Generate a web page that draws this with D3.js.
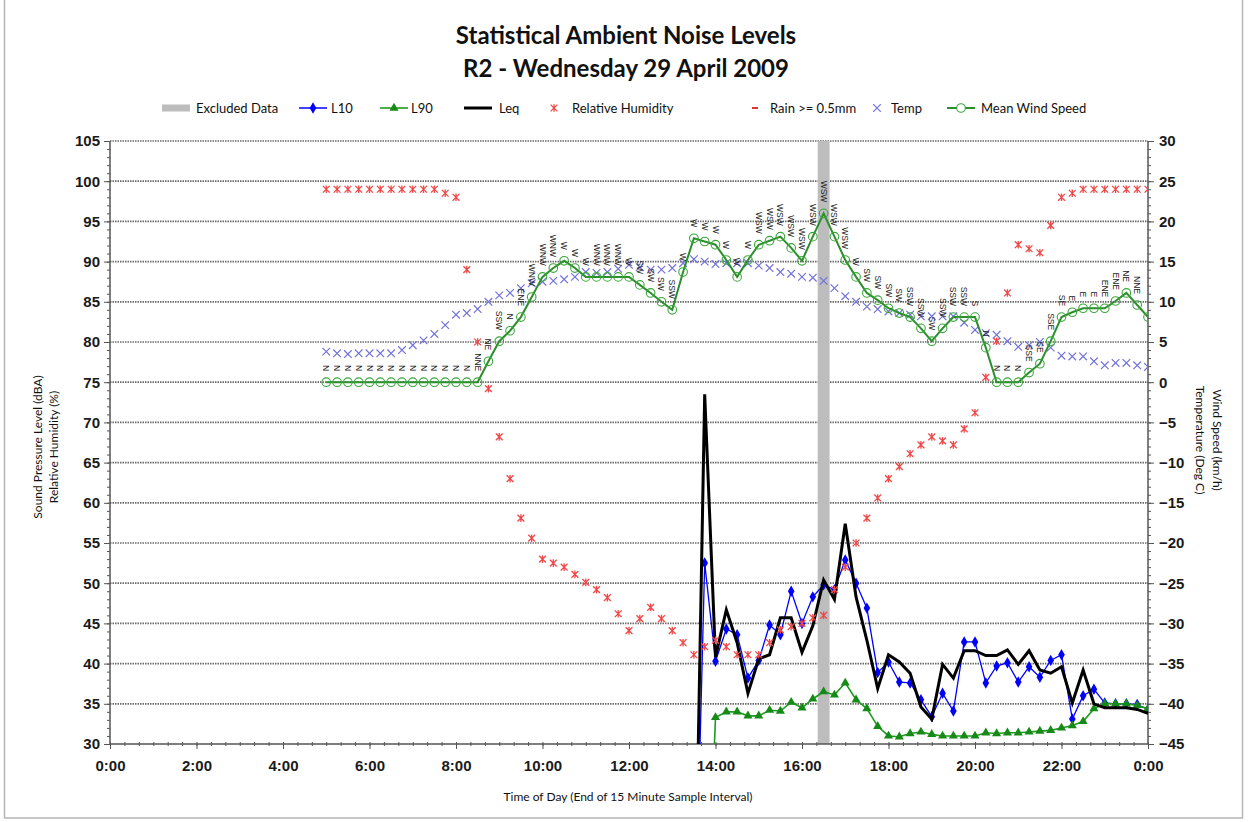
<!DOCTYPE html>
<html>
<head>
<meta charset="utf-8">
<title>Statistical Ambient Noise Levels - R2</title>
<script src="https://cdn.jsdelivr.net/npm/d3@7"></script>
<style>
  html, body { margin: 0; padding: 0; background: #fff; }
  svg { display: block; }
</style>
</head>
<body>
<svg id="chart" width="1248" height="822"></svg>
<script>
// ---------------------------------------------------------------
// Data: 15 minute samples (time = end of sample interval)
// ---------------------------------------------------------------
const stepMinutes = 15;

// Weather station samples, 5:00 to 0:00 (next day)
const weatherStart = "5:00";
const humidity = [ // Relative Humidity (%)
  99, 99, 99, 99, 99, 99, 99, 99, 99, 99, 99, 98.5, 98, 89, 80, 74.2,
  68.2, 63, 58.1, 55.6, 53, 52.5, 52, 51.1, 50.1, 49.2, 48.2, 46.2,
  44.1, 45.6, 47, 45.6, 44.1, 42.6, 41.1, 42.1, 42.9, 42.1, 41.1, 41.1,
  41.1, 42.6, 44.2, 44.6, 45, 45.7, 46, 49.2, 52, 55, 58.1, 60.6,
  63, 64.5, 66.1, 67.2, 68.2, 67.7, 67.2, 69.2, 71.2, 75.6, 80.1, 86.1,
  92.1, 91.6, 91.1, 94.5, 98, 98.5, 99, 99, 99, 99, 99, 99, 99
];
const temperature = [ // Temp (Deg C)
  3.8, 3.6, 3.5, 3.6, 3.6, 3.6, 3.6, 4.0, 4.6, 5.2, 6.0, 7.1, 8.4, 8.6, 9.1, 10.0,
  10.8, 11.1, 11.7, 12.3, 12.5, 12.6, 12.8, 13.1, 13.7, 13.6, 13.7, 14.1,
  14.6, 14.3, 14.0, 14.0, 14.2, 14.8, 15.3, 15.0, 14.7, 14.8, 14.8, 14.8,
  14.5, 14.2, 13.7, 13.5, 13.1, 13.0, 12.6, 11.7, 10.7, 10.0, 9.4, 9.1,
  8.8, 8.6, 8.4, 8.2, 8.2, 8.2, 8.2, 7.4, 6.5, 6.1, 5.9, 5.1,
  4.4, 4.6, 5.0, 4.3, 3.3, 3.2, 3.2, 2.6, 2.1, 2.4, 2.4, 2.1, 1.9
];
const windSpeed = [ // Mean Wind Speed (km/h)
  0, 0, 0, 0, 0, 0, 0, 0, 0, 0, 0, 0, 0, 0, 0, 2.6,
  5.1, 6.4, 8.1, 10.6, 13.1, 14.2, 15.1, 14.2, 13.1, 13.1, 13.1, 13.1,
  13.1, 12.1, 11.1, 10.0, 9.0, 13.7, 17.9, 17.5, 17.1, 15.2, 13.1, 15.2,
  17.1, 17.6, 18.1, 16.7, 15.1, 18.1, 21.0, 18.1, 15.2, 13.1, 11.1, 10.2,
  9.2, 8.6, 8.1, 6.7, 5.1, 6.7, 8.1, 8.1, 8.1, 4.3, 0, 0,
  0, 1.2, 2.3, 5.1, 8.1, 8.7, 9.2, 9.2, 9.2, 10.1, 11.1, 9.6, 8.1
];
const windDirection = [
  "N", "N", "N", "N", "N", "N", "N", "N", "N", "N", "N", "N", "N", "N", "NNE", "NE",
  "SSW", "N", "ENE", "WNW", "WNW", "WNW", "W", "W", "W", "WNW", "WNW", "WNW",
  "W", "SW", "SW", "SW", "SSW", "W", "W", "W", "W", "W", "W", "W",
  "WSW", "WSW", "WSW", "WSW", "WSW", "WSW", "WSW", "WSW", "WSW", "W", "SW", "SW",
  "SW", "SW", "SSW", "SSW", "SW", "SSW", "SSW", "SSW", "S", "N", "N", "N",
  "N", "SSE", "SE", "SSE", "SE", "E", "E", "E", "ENE", "ENE", "NE", "NNE", ""
];

// Noise logger samples, 13:30 to 0:00 (next day), dBA
const noiseStart = "13:30";
const L10 = [
  0, 52.5, 40.3, 44.3, 43.6, 38.2, 40.4, 44.8, 43.6, 49.0, 45.0, 48.3,
  49.8, 49.2, 52.9, 50.0, 46.9, 38.9, 40.2, 37.7, 37.6, 35.5, 33.4, 36.3,
  34.1, 42.7, 42.7, 37.6, 39.7, 40.1, 37.7, 39.6, 38.3, 40.4, 41.1, 33.1,
  36.0, 36.8, 35.1, 35.0, 35.0, 34.9, 34.3
];
const L90 = [
  0, 0, 33.3, 34.0, 34.0, 33.5, 33.5, 34.2, 34.1, 35.2, 34.5, 35.6,
  36.5, 36.1, 37.6, 35.5, 34.4, 32.2, 31.0, 30.9, 31.3, 31.5, 31.2, 31.0,
  31.0, 31.0, 31.0, 31.4, 31.3, 31.4, 31.4, 31.5, 31.6, 31.7, 32.0, 32.3,
  32.8, 34.4, 35.0, 35.0, 35.0, 34.8, 34.4
];
const Leq = [
  0, 73.5, 40.8, 46.7, 42.6, 36.3, 40.6, 41.1, 45.7, 45.7, 41.4, 44.7,
  50.4, 48.0, 57.4, 48.3, 42.9, 36.9, 41.1, 40.2, 38.8, 34.6, 33.1, 39.9,
  38.2, 41.6, 41.6, 41.0, 41.0, 41.7, 39.9, 41.6, 39.2, 38.8, 39.6, 35.1,
  39.2, 35.0, 34.5, 34.5, 34.5, 34.3, 33.8
];

// Samples excluded from the assessment
const excludedIntervals = ["16:30"];
// Rain >= 0.5mm samples (none recorded on this day)
const rainIntervals = [];

// Axis ticks
const xTickHours = [0, 2, 4, 6, 8, 10, 12, 14, 16, 18, 20, 22, 24];
const leftTicks = [30, 35, 40, 45, 50, 55, 60, 65, 70, 75, 80, 85, 90, 95, 100, 105];
const rightTicks = [-45, -40, -35, -30, -25, -20, -15, -10, -5, 0, 5, 10, 15, 20, 25, 30];

// ---------------------------------------------------------------
// Helpers
// ---------------------------------------------------------------
const toHours = s => { const [h, m] = s.split(":").map(Number); return h + m / 60; };
const series = (start, values) =>
  values.map((v, i) => ({ t: toHours(start) + i * stepMinutes / 60, v, i }));

const weatherRH = series(weatherStart, humidity);
const weatherT = series(weatherStart, temperature);
const weatherW = series(weatherStart, windSpeed);
const noiseL10 = series(noiseStart, L10);
const noiseL90 = series(noiseStart, L90);
const noiseLeq = series(noiseStart, Leq);

// ---------------------------------------------------------------
// Layout & scales
// ---------------------------------------------------------------
const plot = { left: 110, right: 1148, top: 141, bottom: 744 };
const x = d3.scaleLinear().domain([0, 24]).range([plot.left, plot.right]);
const yL = d3.scaleLinear().domain([30, 105]).range([plot.bottom, plot.top]);
const yR = d3.scaleLinear().domain([-45, 30]).range([plot.bottom, plot.top]);

const svg = d3.select("#chart");
const fontTitle = "Lato, 'Open Sans', sans-serif";
const fontAxis = "'Liberation Sans', Arial, sans-serif";

// chart frame
svg.append("rect")
  .attr("x", 4.5).attr("y", -4).attr("width", 1238).attr("height", 822)
  .attr("fill", "#fff").attr("stroke", "#b5b5b5").attr("stroke-width", 1.5);

// title
svg.append("text").attr("x", 626).attr("y", 44)
  .attr("text-anchor", "middle").attr("font-family", fontTitle)
  .attr("font-weight", 700).attr("font-size", 24).attr("fill", "#111")
  .text("Statistical Ambient Noise Levels");
svg.append("text").attr("x", 626).attr("y", 77)
  .attr("text-anchor", "middle").attr("font-family", fontTitle)
  .attr("font-weight", 700).attr("font-size", 24).attr("fill", "#111")
  .text("R2 - Wednesday 29 April 2009");

// clip region for the plot area
svg.append("defs").append("clipPath").attr("id", "plotClip")
  .append("rect")
  .attr("x", plot.left).attr("y", plot.top - 30)
  .attr("width", plot.right - plot.left).attr("height", plot.bottom - plot.top + 30);

// gridlines
const grid = svg.append("g");
grid.selectAll("line").data(leftTicks.filter(v => v > 30)).join("line")
  .attr("x1", plot.left).attr("x2", plot.right)
  .attr("y1", d => yL(d)).attr("y2", d => yL(d))
  .attr("stroke", "#6a6a6a").attr("stroke-width", 1.7)
  .attr("stroke-dasharray", "1.5,1");

// excluded data bars
const stepW = x(stepMinutes / 60) - x(0);
svg.append("g").selectAll("rect").data(excludedIntervals).join("rect")
  .attr("x", d => x(toHours(d)) - stepW * 0.55)
  .attr("width", stepW * 1.1)
  .attr("y", yL(105)).attr("height", yL(30) - yL(105))
  .attr("fill", "#bdbdbd");

// axes
const axisColor = "#555";
const axes = svg.append("g");
axes.append("line").attr("x1", plot.left).attr("x2", plot.left)
  .attr("y1", plot.top).attr("y2", plot.bottom).attr("stroke", axisColor).attr("stroke-width", 1.5);
axes.append("line").attr("x1", plot.right).attr("x2", plot.right)
  .attr("y1", plot.top).attr("y2", plot.bottom).attr("stroke", axisColor).attr("stroke-width", 1.5);
axes.append("line").attr("x1", plot.left).attr("x2", plot.right)
  .attr("y1", plot.bottom).attr("y2", plot.bottom).attr("stroke", axisColor).attr("stroke-width", 1.5);

// left axis ticks
const leftAxis = d3.axisLeft(yL).tickValues(leftTicks).tickSize(6).tickPadding(4);
svg.append("g").attr("transform", `translate(${plot.left},0)`).call(leftAxis);
const leftMinor = d3.axisLeft(yL).tickValues(d3.range(30, 106, 1)).tickSize(3).tickFormat("");
svg.append("g").attr("transform", `translate(${plot.left},0)`).call(leftMinor);

// right axis ticks
const rightAxis = d3.axisRight(yR).tickValues(rightTicks).tickSize(6).tickPadding(5);
svg.append("g").attr("transform", `translate(${plot.right},0)`).call(rightAxis);
const rightMinor = d3.axisRight(yR).tickValues(d3.range(-45, 31, 1)).tickSize(3).tickFormat("");
svg.append("g").attr("transform", `translate(${plot.right},0)`).call(rightMinor);

// bottom axis ticks
const xAxis = d3.axisBottom(x).tickValues(xTickHours).tickSize(5).tickPadding(11)
  .tickFormat(h => `${h % 24}:00`);
svg.append("g").attr("transform", `translate(0,${plot.bottom})`).call(xAxis);
const xMinor = d3.axisBottom(x).tickValues(d3.range(0, 24.01, 1 / 3)).tickSize(4).tickFormat("");
svg.append("g").attr("transform", `translate(0,${plot.bottom - 2})`).call(xMinor);

svg.selectAll(".domain").remove();
svg.selectAll(".tick line").attr("stroke", axisColor).attr("stroke-width", 1);
svg.selectAll(".tick text").attr("font-family", fontAxis).attr("font-weight", 700)
  .attr("font-size", 15).attr("fill", "#1a1a1a");

// axis titles
const titleFont = { family: fontTitle, size: 12 };
function axisTitle(txt, tx, ty, rot) {
  svg.append("text").attr("transform", `translate(${tx},${ty}) rotate(${rot})`)
    .attr("text-anchor", "middle").attr("dominant-baseline", "central")
    .attr("font-family", titleFont.family).attr("font-size", titleFont.size)
    .attr("fill", "#111").text(txt);
}
axisTitle("Sound Pressure Level (dBA)", 37, 447, -90);
axisTitle("Relative Humidity (%)", 53, 447, -90);
axisTitle("Wind Speed (km/h)", 1217, 440, 90);
axisTitle("Temperature (Deg C)", 1200, 440, 90);
svg.append("text").attr("x", 628).attr("y", 801).attr("text-anchor", "middle")
  .attr("font-family", titleFont.family).attr("font-size", titleFont.size).attr("fill", "#111")
  .text("Time of Day (End of 15 Minute Sample Interval)");

// ---------------------------------------------------------------
// Series
// ---------------------------------------------------------------
const colors = {
  excluded: "#bdbdbd",
  L10: "#0000ff",
  L90line: "#1f9a1f",
  L90mark: "#168a16",
  Leq: "#000000",
  RH: "#f04848",
  rain: "#e03030",
  temp: "#7272dc",
  wind: "#2b8f2b"
};

const layer = svg.append("g").attr("clip-path", "url(#plotClip)");
const lineL = d3.line().x(d => x(d.t)).y(d => yL(d.v));
const lineR = d3.line().x(d => x(d.t)).y(d => yR(d.v));

const diamond = d3.symbol(d3.symbolDiamond, 38)();
const triangle = d3.symbol(d3.symbolTriangle, 36)();
const crossPath = "M-3.8,-3.8L3.8,3.8M-3.8,3.8L3.8,-3.8";
const starPath = "M-3.4,-3.4L3.4,3.4M-3.4,3.4L3.4,-3.4M0,-3.8L0,3.8";

// L10
layer.append("path").datum(noiseL10).attr("d", lineL)
  .attr("fill", "none").attr("stroke", colors.L10).attr("stroke-width", 1.3);
layer.append("g").selectAll("path").data(noiseL10).join("path")
  .attr("transform", d => `translate(${x(d.t)},${yL(d.v)})`)
  .attr("d", diamond).attr("fill", colors.L10);

// L90
layer.append("path").datum(noiseL90).attr("d", lineL)
  .attr("fill", "none").attr("stroke", colors.L90line).attr("stroke-width", 1.6);
layer.append("g").selectAll("path").data(noiseL90).join("path")
  .attr("transform", d => `translate(${x(d.t)},${yL(d.v)})`)
  .attr("d", triangle).attr("fill", colors.L90mark);

// Leq
layer.append("path").datum(noiseLeq).attr("d", lineL)
  .attr("fill", "none").attr("stroke", colors.Leq).attr("stroke-width", 3)
  .attr("stroke-linejoin", "miter");

// Relative humidity
layer.append("g").selectAll("path").data(weatherRH).join("path")
  .attr("transform", d => `translate(${x(d.t)},${yL(d.v)})`)
  .attr("d", starPath).attr("fill", "none").attr("stroke", colors.RH).attr("stroke-width", 1.3);

// Rain
layer.append("g").selectAll("line").data(rainIntervals).join("line")
  .attr("x1", d => x(toHours(d)) - 3).attr("x2", d => x(toHours(d)) + 3)
  .attr("y1", yL(30)).attr("y2", yL(30))
  .attr("stroke", colors.rain).attr("stroke-width", 2);

// Temperature
layer.append("g").selectAll("path").data(weatherT).join("path")
  .attr("transform", d => `translate(${x(d.t)},${yR(d.v)})`)
  .attr("d", crossPath).attr("fill", "none").attr("stroke", colors.temp).attr("stroke-width", 1.2);

// Wind speed
layer.append("path").datum(weatherW).attr("d", lineR)
  .attr("fill", "none").attr("stroke", colors.wind).attr("stroke-width", 2);
layer.append("g").selectAll("circle").data(weatherW).join("circle")
  .attr("cx", d => x(d.t)).attr("cy", d => yR(d.v)).attr("r", 4.3)
  .attr("fill", "none").attr("stroke", "#3aa63a").attr("stroke-width", 1.1);

// Wind direction labels
layer.append("g").selectAll("text").data(weatherW).join("text")
  .attr("transform", d => `translate(${x(d.t)},${yR(d.v) - 11}) rotate(90)`)
  .attr("text-anchor", "end").attr("dy", "0.35em")
  .attr("font-family", fontAxis).attr("font-size", 8.5).attr("fill", "#222")
  .text(d => windDirection[d.i]);

// ---------------------------------------------------------------
// Legend
// ---------------------------------------------------------------
const legend = svg.append("g").attr("font-family", fontTitle).attr("font-size", 13).attr("fill", "#111");
const ly = 108;
function legendText(tx, label) {
  legend.append("text").attr("x", tx).attr("y", ly).attr("dy", "0.35em").text(label);
}
// Excluded Data
legend.append("rect").attr("x", 162).attr("y", ly - 3.5).attr("width", 28).attr("height", 7).attr("fill", colors.excluded);
legendText(196, "Excluded Data");
// L10
legend.append("line").attr("x1", 299).attr("x2", 327).attr("y1", ly).attr("y2", ly).attr("stroke", colors.L10).attr("stroke-width", 1.5);
legend.append("path").attr("transform", `translate(313,${ly})`).attr("d", diamond).attr("fill", colors.L10);
legendText(331, "L10");
// L90
legend.append("line").attr("x1", 380).attr("x2", 408).attr("y1", ly).attr("y2", ly).attr("stroke", colors.L90line).attr("stroke-width", 1.6);
legend.append("path").attr("transform", `translate(394,${ly})`).attr("d", triangle).attr("fill", colors.L90mark);
legendText(411, "L90");
// Leq
legend.append("line").attr("x1", 464).attr("x2", 492).attr("y1", ly).attr("y2", ly).attr("stroke", colors.Leq).attr("stroke-width", 3);
legendText(499, "Leq");
// Relative Humidity
legend.append("path").attr("transform", `translate(554,${ly})`).attr("d", starPath)
  .attr("fill", "none").attr("stroke", colors.RH).attr("stroke-width", 1.3);
legendText(572, "Relative Humidity");
// Rain
legend.append("line").attr("x1", 752).attr("x2", 758).attr("y1", ly).attr("y2", ly).attr("stroke", colors.rain).attr("stroke-width", 2);
legendText(770, "Rain >= 0.5mm");
// Temp
legend.append("path").attr("transform", `translate(877,${ly})`).attr("d", crossPath)
  .attr("fill", "none").attr("stroke", colors.temp).attr("stroke-width", 1.2);
legendText(891, "Temp");
// Mean Wind Speed
legend.append("line").attr("x1", 947).attr("x2", 975).attr("y1", ly).attr("y2", ly).attr("stroke", colors.wind).attr("stroke-width", 2);
legend.append("circle").attr("cx", 961).attr("cy", ly).attr("r", 4.3).attr("fill", "#fff").attr("stroke", "#3aa63a").attr("stroke-width", 1.1);
legendText(981, "Mean Wind Speed");
</script>
</body>
</html>
